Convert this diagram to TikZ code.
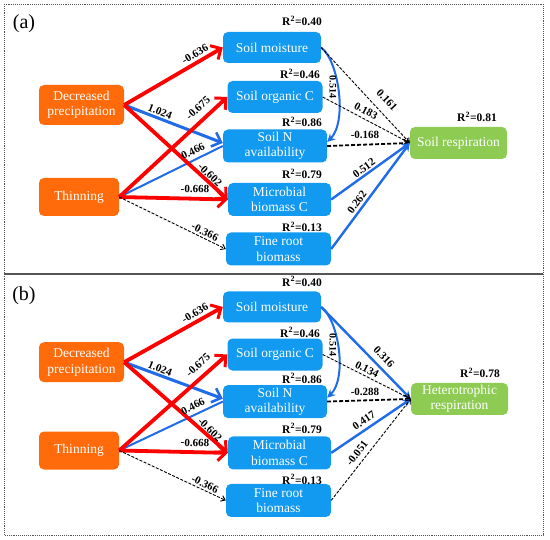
\documentclass[tikz,border=0pt]{standalone}
\usepackage{fontspec}
\setmainfont{Liberation Serif}
\usetikzlibrary{arrows.meta}
\definecolor{orng}{HTML}{FF6A0A}
\definecolor{bbox}{HTML}{1299F0}
\definecolor{gbox}{HTML}{8DCB52}
\definecolor{barrow}{HTML}{1F6BE8}
\definecolor{rarrow}{HTML}{FF0000}
\definecolor{frm}{HTML}{555555}
\newcommand\leftpart{%
  \node[obox, minimum width=85pt, minimum height=40pt] (dp) at (81.5,105) {Decreased\\precipitation};
  \node[obox, minimum width=80pt, minimum height=38pt] (th) at (79,197) {Thinning};
  \node[bbx, minimum width=98pt, minimum height=31pt] (sm) at (272,47.5) {Soil moisture};
  \node[bbx, minimum width=95pt, minimum height=32pt] (soc) at (275,97) {Soil organic C};
  \node[bbx, minimum width=104pt, minimum height=33pt] (sn) at (275,146) {Soil N\\availability};
  \node[bbx, minimum width=103pt, minimum height=33pt] (mb) at (279.5,199.5) {Microbial\\biomass C};
  \node[bbx, minimum width=105pt, minimum height=33pt] (fr) at (278.5,249) {Fine root\\biomass};
  \node[rsq] (r1) at (302,21) {R\textsuperscript{2}=0.40};
  \node[rsq] (r2) at (300,74) {R\textsuperscript{2}=0.46};
  \node[rsq] (r3) at (302,122) {R\textsuperscript{2}=0.86};
  \node[rsq] (r4) at (302,174) {R\textsuperscript{2}=0.79};
  \node[rsq] (r5) at (302,227) {R\textsuperscript{2}=0.13};
  \draw[bthick] (dp.east) -- ([yshift=3pt]sn.west);
  \draw[bthin] (th.east) -- (sn.west);
  \draw[redarr] (dp.east) -- (sm.west);
  \draw[redarr] (dp.east) -- (mb.west);
  \draw[redarr] (th.east) -- (soc.west);
  \draw[redarr] (th.east) -- (mb.west);
  \draw[kdash] (th.east) -- (fr.west);
  \draw[bcurve] (sm.east) .. controls +(18,14) and +(20,-20) .. ([yshift=4pt]sn.east);
  \node[coef, rotate=30] (l1) at (195,54) {-0.636};
  \node[coef, rotate=-22] (l2) at (160,112) {1.024};
  \node[coef, rotate=42] (l3) at (198,108) {-0.675};
  \node[coef, rotate=26] (l4) at (193,151) {0.466};
  \node[coef, rotate=-44] (l5) at (210,175) {-0.602};
  \node[coef, rotate=-2] (l6) at (195,189) {-0.668};
  \node[coef, rotate=-26] (l7) at (205,232) {-0.366};
  \node[coef, rotate=-90, font=\bfseries\fontsize{10}{11}\selectfont] (l8) at (333,87) {0.514};
}
\begin{document}
\begin{tikzpicture}[x=1pt,y=-1pt,
  box/.style={rounded corners=5pt, text=white, align=center, font=\fontsize{13.5}{15.5}\selectfont, inner sep=0pt},
  obox/.style={box, fill=orng},
  bbx/.style={box, fill=bbox},
  gbx/.style={box, fill=gbox},
  coef/.style={font=\bfseries\fontsize{11}{12}\selectfont, inner sep=0pt},
  rsq/.style={font=\bfseries\fontsize{11.5}{12}\selectfont, inner sep=0pt},
  redarr/.style={draw=rarrow, line width=3.8pt, -{Straight Barb[length=8pt,width=16pt,line width=3pt]}},
  bthick/.style={draw=barrow, line width=3pt, -{Straight Barb[length=8pt,width=15pt,line width=2.6pt]}},
  bthin/.style={draw=barrow, line width=2pt},
  bright/.style={draw=barrow, line width=2.4pt, -{Stealth[length=8pt,width=8pt]}},
  bcurve/.style={draw=barrow, line width=2pt, -{Stealth[length=8pt,width=8pt]}},
  kdash/.style={draw=black, line width=0.9pt, dash pattern=on 3pt off 1.5pt, -{Straight Barb[length=4pt,width=6pt,line width=0.9pt]}},
  kdashthick/.style={draw=black, line width=1.8pt, dash pattern=on 4pt off 2pt, -{Straight Barb[length=5pt,width=8pt,line width=1.4pt]}},
]
\useasboundingbox (0,0) rectangle (550,540);
\draw[frm, densely dotted, line width=0.9pt] (4,4) rectangle (543,535);
\draw[frm, line width=1.3pt] (4,274) -- (543,274);
\node[font=\fontsize{20}{22}\selectfont, inner sep=0pt] (pa) at (24,24) {(a)};
\node[font=\fontsize{20}{22}\selectfont, inner sep=0pt] (pb) at (24,296) {(b)};
% panel a
\begin{scope}
  \leftpart
  \node[gbx, minimum width=97pt, minimum height=32pt] (sr) at (458.5,143) {Soil respiration};
  \node[rsq] (r6) at (477,117) {R\textsuperscript{2}=0.81};
  \draw[kdash] (sm.east) -- (sr.west);
  \draw[kdash] (soc.east) -- (sr.west);
  \draw[kdashthick] (sn.east) -- (sr.west);
  \draw[bright] (mb.east) -- (sr.west);
  \draw[bright] (fr.east) -- (sr.west);
  \node[coef, rotate=-47] (m1) at (387,100) {0.161};
  \node[coef, rotate=-28] (m2) at (366,111) {0.183};
  \node[coef] (m3) at (365,135) {-0.168};
  \node[coef, rotate=36] (m4) at (364,168) {0.512};
  \node[coef, rotate=53] (m5) at (357,202) {0.262};
\end{scope}
% panel b
\begin{scope}[name prefix=b-, yshift=-261.4pt, yscale=0.96]
  \leftpart
  \node[gbx, minimum width=97pt, minimum height=32pt] (sr) at (459.5,143.3) {Heterotrophic\\respiration};
  \node[rsq] (r6) at (480,116.3) {R\textsuperscript{2}=0.78};
  \draw[bright] (sm.east) -- (sr.west);
  \draw[kdash] (soc.east) -- (sr.west);
  \draw[kdashthick] (sn.east) -- (sr.west);
  \draw[bright] (mb.east) -- (sr.west);
  \draw[kdash] (fr.east) -- (sr.west);
  \node[coef, rotate=-46] (m1) at (384,99.6) {0.316};
  \node[coef, rotate=-27] (m2) at (367,112.6) {0.134};
  \node[coef] (m3) at (365,135.5) {-0.288};
  \node[coef, rotate=34] (m4) at (364,165.7) {0.417};
  \node[coef, rotate=52] (m5) at (357,199.6) {-0.051};
\end{scope}
\end{tikzpicture}
\end{document}
